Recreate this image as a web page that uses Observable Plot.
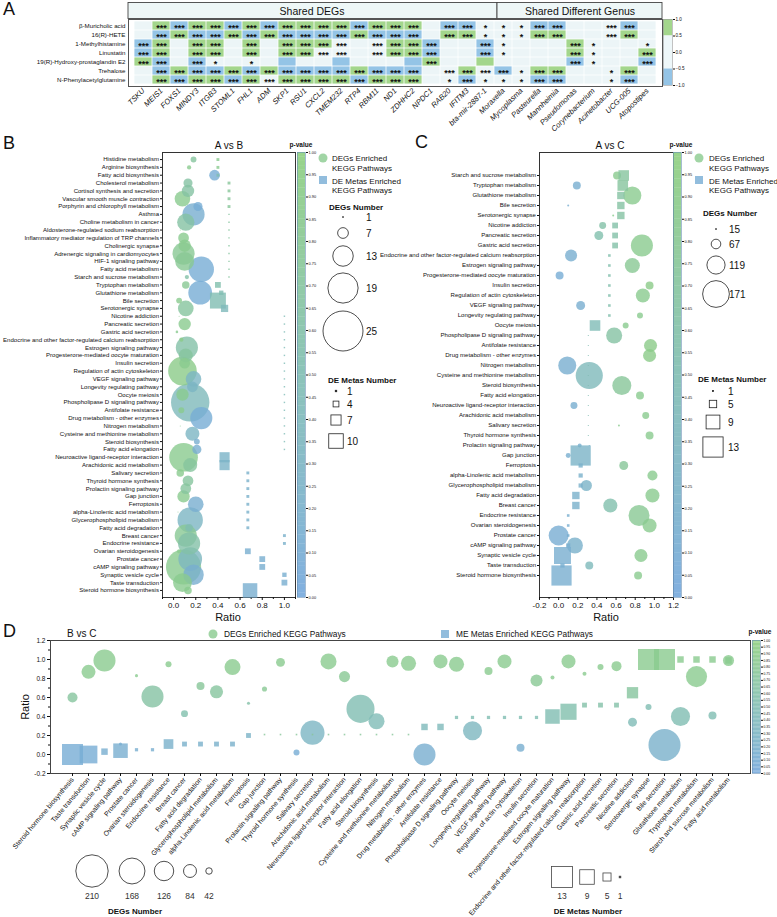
<!DOCTYPE html>
<html><head><meta charset="utf-8">
<script src="https://cdn.jsdelivr.net/npm/d3@7"></script>
<script src="https://cdn.jsdelivr.net/npm/@observablehq/plot@0.6"></script>
<style>
body{margin:0;background:#fff;}
#root{position:relative;width:777px;height:917px;overflow:hidden;font-family:'Liberation Sans',Arial,Helvetica,sans-serif;background:#fff;}
</style></head>
<body><div id="root"></div>
<script>
// ---------------- DATA ----------------
// Panel A
const aRows = ["β-Muricholic acid","16(R)-HETE","1-Methylhistamine","Linustatin","19(R)-Hydroxy-prostaglandin E2","Trehalose","N-Phenylacetylglutamine"];
const aGenes = ["TSKU","MEIS1","FOXS1","MINDY3","ITGB3","STOML1","FHL1","ADM","SKP1","RSU1","CXCL2","TMEM232","RTP4","RBM11","ND1","ZDHHC2","NPDC1","RAB20","IFITM3","bta-mir-2887-1"];
const aGenus = ["Moraxella","Mycoplasma","Pasteurella","Mannheimia","Pseudomonas","Corynebacterium","Acinetobacter","UCG-005","Atopostipes"];
// g = positive (green), b = negative (blue), . = none
const aFill = [
".gbggbgbggggbggg.bb...bb...b.",
".bgbbgbgbbbbgbbb.gg...gg...g.",
"bg.gg.g.ggg...ggb..b....g....",
"bg.gg.g.gg....ggb..b....g...g",
"gb.b....b..b...bg..g....b...b",
".bgbbgbgbbbbgbbb..g.b.gg...g.",
".gbggbg.ggggbggg..b...bb...b."
];
// number of stars
const aStars = [
"03333333333333330331113300330",
"03333333333333330331113300330",
"33033030333303333003100031001",
"33033030333303333003100031003",
"33031010000000003000000031003",
"03333333333333330333313300130",
"03333333333333330131113300130"
];
const aLegendTicks = [1,0.5,0,-0.5,-1];

// Panel B (A vs B)
const bPath = ["Histidine metabolism","Arginine biosynthesis","Fatty acid biosynthesis","Cholesterol metabolism","Cortisol synthesis and secretion","Vascular smooth muscle contraction","Porphyrin and chlorophyll metabolism","Asthma","Choline metabolism in cancer","Aldosterone-regulated sodium reabsorption","Inflammatory mediator regulation of TRP channels","Cholinergic synapse","Adrenergic signaling in cardiomyocytes","HIF-1 signaling pathway","Fatty acid metabolism","Starch and sucrose metabolism","Tryptophan metabolism","Glutathione metabolism","Bile secretion","Serotonergic synapse","Nicotine addiction","Pancreatic secretion","Gastric acid secretion","Endocrine and other factor-regulated calcium reabsorption","Estrogen signaling pathway","Progesterone-mediated oocyte maturation","Insulin secretion","Regulation of actin cytoskeleton","VEGF signaling pathway","Longevity regulating pathway","Oocyte meiosis","Phospholipase D signaling pathway","Antifolate resistance","Drug metabolism - other enzymes","Nitrogen metabolism","Cysteine and methionine metabolism","Steroid biosynthesis","Fatty acid elongation","Neuroactive ligand-receptor interaction","Arachidonic acid metabolism","Salivary secretion","Thyroid hormone synthesis","Prolactin signaling pathway","Gap junction","Ferroptosis","alpha-Linolenic acid metabolism","Glycerophospholipid metabolism","Fatty acid degradation","Breast cancer","Endocrine resistance","Ovarian steroidogenesis","Prostate cancer","cAMP signaling pathway","Synaptic vesicle cycle","Taste transduction","Steroid hormone biosynthesis"];
const bDegRatio = [0.18,0.14,0.37,0.13,0.13,0.08,0.22,0.18,0.11,0.06,0.09,0.10,0.09,0.10,0.25,0.12,0.11,0.24,0.05,0.11,0.05,0.10,0.03,0.07,0.12,0.11,0.10,0.08,0.18,0.17,0.08,0.15,0.07,0.25,0.06,0.17,0.21,0.21,0.09,0.15,0.06,0.13,0.11,0.09,0.20,0.04,0.15,0.14,0.11,0.14,0.05,0.15,0.09,0.18,0.08,0.13];
const bDegNum = [4,3,7,6,8,10,6,14,11,1,7,8,14,12,16,3,5,15,4,10,1,8,2,3,14,9,7,18,10,7,8,24,4,14,1,9,4,6,18,9,5,7,7,8,10,1,16,5,14,14,3,15,22,13,12,5];
const bDegP = [0.7,0.85,0.1,0.65,0.65,0.85,0.1,0.15,0.65,0.9,0.85,0.85,0.8,0.8,0.1,0.6,0.8,0.1,0.85,0.7,0.85,0.85,0.85,0.9,0.6,0.7,0.85,0.9,0.3,0.3,0.85,0.4,0.85,0.1,0.85,0.3,0.15,0.15,0.85,0.7,0.85,0.7,0.7,0.85,0.15,0.85,0.3,0.5,0.8,0.6,0.85,0.35,0.85,0.15,0.85,0.85];
const bMetRatio = [0.40,0.40,0.40,0.50,0.50,0.50,0.50,0.50,0.50,0.50,0.50,0.50,0.50,0.50,0.50,0.50,0.40,0.43,0.40,0.46,1,1,1,1,1,1,1,1,1,1,1,1,1,1,1,1,1,1,0.46,0.46,0.67,0.67,0.67,0.67,0.67,0.67,0.67,0.67,1,1,0.67,0.80,0.80,1,1,0.69];
const bMetNum = [2,2,2,2,2,2,2,1,1,1,1,1,1,1,1,1,4,3,11,5,1,1,1,1,1,1,1,1,1,1,1,1,1,1,1,1,1,1,7,7,2,2,2,2,2,2,2,2,2,2,4,4,4,3,4,10];
const bMetP = [0.85,0.85,0.5,0.75,0.75,0.75,0.75,0.7,0.7,0.7,0.7,0.7,0.7,0.7,0.7,0.7,0.55,0.5,0.5,0.4,0.45,0.45,0.45,0.45,0.45,0.45,0.45,0.45,0.45,0.45,0.45,0.45,0.45,0.45,0.45,0.45,0.45,0.45,0.25,0.25,0.2,0.2,0.2,0.2,0.2,0.2,0.2,0.2,0.2,0.2,0.15,0.15,0.15,0.15,0.15,0.15];
const bTicks = [0,0.2,0.4,0.6,0.8,1.0];
const bMinor = [-0.1,0.1,0.3,0.5,0.7,0.9,1.1];
const bLegDeg = [1,7,13,19,25];
const bLegMet = [1,4,7,10];

// Panel C (A vs C)
const cPath = ["Starch and sucrose metabolism","Tryptophan metabolism","Glutathione metabolism","Bile secretion","Serotonergic synapse","Nicotine addiction","Pancreatic secretion","Gastric acid secretion","Endocrine and other factor-regulated calcium reabsorption","Estrogen signaling pathway","Progesterone-mediated oocyte maturation","Insulin secretion","Regulation of actin cytoskeleton","VEGF signaling pathway","Longevity regulating pathway","Oocyte meiosis","Phospholipase D signaling pathway","Antifolate resistance","Drug metabolism - other enzymes","Nitrogen metabolism","Cysteine and methionine metabolism","Steroid biosynthesis","Fatty acid elongation","Neuroactive ligand-receptor interaction","Arachidonic acid metabolism","Salivary secretion","Thyroid hormone synthesis","Prolactin signaling pathway","Gap junction","Ferroptosis","alpha-Linolenic acid metabolism","Glycerophospholipid metabolism","Fatty acid degradation","Breast cancer","Endocrine resistance","Ovarian steroidogenesis","Prostate cancer","cAMP signaling pathway","Synaptic vesicle cycle","Taste transduction","Steroid hormone biosynthesis"];
const cDegRatio = [0.61,0.19,0.77,0.10,0.57,0.46,0.42,0.87,0.13,0.77,0.01,0.95,0.88,0.23,0.85,0.70,0.58,0.96,0.95,0.09,0.32,0.66,0.85,0.16,0.91,0.63,0.95,0.22,0.10,0.68,0.98,0.29,0.98,0.54,0.84,0.95,0.00,0.17,0.86,0.32,0.83];
const cDegNum = [57,57,118,21,21,51,63,142,82,100,57,57,94,63,45,45,106,88,88,118,173,124,57,51,51,21,57,33,39,63,70,76,94,94,136,94,130,106,88,57,57];
const cDegP = [0.85,0.15,0.85,0.15,0.85,0.6,0.55,0.85,0.15,0.8,0.1,0.9,0.85,0.15,0.85,0.85,0.65,0.9,0.9,0.15,0.4,0.75,0.85,0.15,0.85,0.85,0.85,0.15,0.15,0.75,0.85,0.25,0.85,0.55,0.8,0.85,0.12,0.2,0.85,0.4,0.85];
const cMetRatio = [0.68,0.67,0.65,0.65,0.65,0.59,0.59,0.59,0.53,0.53,0.53,0.53,0.53,0.53,0.53,0.38,0.31,0.31,0.31,0.31,0.31,0.31,0.31,0.31,0.31,0.31,0.31,0.32,0.23,0.23,0.23,0.23,0.18,0.18,0.10,0.10,0.10,0.10,0.04,0.04,0.03];
const cMetNum = [7,7,5,5,5,4,4,4,2,2,2,2,2,2,2,7,1,1,1,1,1,1,1,1,1,1,1,1,13,3,3,3,5,5,2,2,2,3,11,3,13];
const cMetP = [0.7,0.7,0.65,0.65,0.65,0.6,0.6,0.6,0.55,0.55,0.55,0.55,0.55,0.55,0.55,0.45,0.5,0.5,0.5,0.5,0.5,0.5,0.5,0.5,0.5,0.5,0.5,0.2,0.25,0.2,0.2,0.2,0.2,0.2,0.15,0.15,0.15,0.15,0.15,0.15,0.15];
const cTicks = [-0.2,0,0.2,0.4,0.6,0.8,1.0,1.2];
const cMinor = [-0.1,0.1,0.3,0.5,0.7,0.9,1.1];
const cLegDeg = [15,67,119,171];
const cLegMet = [1,5,9,13];

// Panel D (B vs C)
const dPath = ["Steroid hormone biosynthesis","Taste transduction","Synaptic vesicle cycle","cAMP signaling pathway","Prostate cancer","Ovarian steroidogenesis","Endocrine resistance","Breast cancer","Fatty acid degradation","Glycerophospholipid metabolism","alpha-Linolenic acid metabolism","Ferroptosis","Gap junction","Prolactin signaling pathway","Thyroid hormone synthesis","Salivary secretion","Arachidonic acid metabolism","Neuroactive ligand-receptor interaction","Fatty acid elongation","Steroid biosynthesis","Cysteine and methionine metabolism","Nitrogen metabolism","Drug metabolism - other enzymes","Antifolate resistance","Phospholipase D signaling pathway","Oocyte meiosis","Longevity regulating pathway","VEGF signaling pathway","Regulation of actin cytoskeleton","Insulin secretion","Progesterone-mediated oocyte maturation","Estrogen signaling pathway","Endocrine and other factor-regulated calcium reabsorption","Gastric acid secretion","Pancreatic secretion","Nicotine addiction","Serotonergic synapse","Bile secretion","Glutathione metabolism","Tryptophan metabolism","Starch and sucrose metabolism","Fatty acid metabolism"];
const dDegRatio = [0.60,0.87,0.99,0.11,0.83,0.61,0.95,0.43,0.72,0.66,0.92,0.54,0.69,0.97,0.02,0.23,0.98,0.82,0.48,0.35,0.98,0.96,0.00,0.98,0.95,0.25,0.88,0.98,0.07,0.78,0.81,0.98,0.85,0.92,0.93,0.34,0.50,0.10,0.40,0.82,0.41,0.99];
const dDegNum = [65,91,143,20,20,143,39,45,52,85,104,20,33,58,39,156,104,72,182,104,78,98,143,91,98,124,52,91,52,78,26,91,26,39,65,58,39,208,124,137,52,72];
const dDegP = [0.7,0.85,0.85,0.1,0.85,0.65,0.85,0.55,0.75,0.7,0.85,0.6,0.8,0.85,0.1,0.3,0.85,0.8,0.5,0.45,0.85,0.85,0.15,0.85,0.85,0.35,0.85,0.85,0.15,0.8,0.85,0.85,0.85,0.85,0.85,0.45,0.5,0.2,0.5,0.85,0.5,0.85];
const dMetRatio = [0.00,0.00,0.03,0.04,0.05,0.05,0.11,0.11,0.11,0.11,0.11,0.20,0.21,0.21,0.21,0.21,0.21,0.21,0.21,0.21,0.21,0.21,0.29,0.29,0.39,0.39,0.39,0.39,0.39,0.39,0.40,0.45,0.52,0.52,0.52,0.65,1.0,1.0,1.0,1.0,1.0,0.99];
const dMetNum = [13,11,4,9,2,2,6,3,3,3,3,3,1,1,1,1,1,1,1,1,1,1,4,4,2,2,2,2,2,2,9,10,3,3,3,7,13,13,4,4,4,4];
const dMetP = [0.1,0.1,0.15,0.15,0.15,0.15,0.2,0.2,0.2,0.2,0.2,0.25,0.75,0.75,0.75,0.75,0.75,0.75,0.75,0.75,0.75,0.75,0.4,0.4,0.5,0.5,0.5,0.5,0.5,0.5,0.5,0.55,0.6,0.6,0.6,0.7,0.85,0.85,0.85,0.85,0.85,0.85];
const dYTicks = [-0.2,0,0.2,0.4,0.6,0.8,1.0,1.2];
const dYMinor = [-0.1,0.1,0.3,0.5,0.7,0.9,1.1];
const dLegDeg = [210,168,126,84,42];
const dLegMet = [13,9,5,1];

// p-value colour bar ticks
const pTicks = [0,0.05,0.1,0.15,0.2,0.25,0.3,0.35,0.4,0.45,0.5,0.55,0.6,0.65,0.7,0.75,0.8,0.85,0.9,0.95,1];

// ---------------- STYLE ----------------
const FONT = "'Liberation Sans', Arial, Helvetica, sans-serif";
const heatG = "#a3d68c", heatB = "#94c4e6", heatBg = "#ecf5f7";
const pRange = ["#75a8dc", "#80bdb2", "#8ecf7e"];
const pColor = {type: "linear", domain: [0, 0.5, 1], range: pRange};
const pFn = d3.scaleLinear([0, 0.5, 1], pRange);
const OP = 0.8;
const baseStyle = {fontFamily: FONT, background: "transparent", overflow: "visible", color: "#111"};
const sqR = s => s / Math.sqrt(Math.PI); // square side -> symbol radius

const bR = d3.scaleLinear([1, 25], [0.5, 20]);
const bSide = d3.scaleLinear([0, 10], [0, 14.5]);
const cR = d3.scaleLinear([15, 171], [0.5, 13.4]);
const cSide = d3.scaleLinear([1, 13], [1, 20.2]);
const dR = d3.scaleLinear([0, 210], [0, 16.2]);
const dSide = d3.scaleLinear([0, 13], [0, 21]);

const root = document.getElementById("root");
function place(el, left, top) {
  el.style.position = "absolute";
  el.style.left = left + "px";
  el.style.top = top + "px";
  el.style.maxWidth = "none";
  root.appendChild(el);
}

// ---------------- PANEL A ----------------
const aCols = aGenes.concat(aGenus);
const aCells = aRows.flatMap((row, i) => aCols.map((col, j) => ({row, col, f: aFill[i][j], s: +aStars[i][j]})));
place(Plot.plot({
  width: 665, height: 135, marginLeft: 128, marginRight: 3, marginTop: 19, marginBottom: 49,
  x: {domain: aCols, padding: 0}, y: {domain: aRows, padding: 0},
  color: {type: "ordinal", domain: ["g", "b", "."], range: [heatG, heatB, heatBg]},
  style: baseStyle,
  marks: [
    Plot.cell(aCells, {x: "col", y: "row", fill: "f", inset: 0.4}),
    Plot.text(aCells.filter(d => d.s > 0), {x: "col", y: "row", text: d => "*".repeat(d.s), fontSize: 9, fontWeight: "bold", dy: 2.6, fill: "#111"}),
    Plot.frame({stroke: "#555", strokeWidth: 1}),
    Plot.axisX({tickRotate: -45, tickSize: 0, tickPadding: 3, fontSize: 7.6, fontStyle: "italic", label: null}),
    Plot.axisY({tickSize: 0, tickPadding: 3, fontSize: 6.2, label: null})
  ]
}), 0, 0);

const aLegend = [{lo: 0.5, hi: 1, c: heatG}, {lo: -0.5, hi: 0.5, c: "#eef7f9"}, {lo: -1, hi: -0.5, c: heatB}];
place(Plot.plot({
  width: 30, height: 100, marginLeft: 2, marginRight: 19, marginTop: 19, marginBottom: 15,
  x: {domain: [0, 1], axis: null}, y: {domain: [-1, 1]}, color: {type: "identity"},
  style: baseStyle,
  marks: [
    Plot.rect(aLegend, {x1: 0, x2: 1, y1: "lo", y2: "hi", fill: "c"}),
    Plot.frame({stroke: "#999", strokeWidth: 0.6}),
    Plot.axisY({anchor: "right", ticks: aLegendTicks, tickSize: 2, tickPadding: 1, fontSize: 4.6, label: null})
  ]
}), 661, 0);

// ---------------- helpers ----------------
const cbSteps = d3.range(0, 1, 0.01);
function colorbar(left, top, width, height, mt, mb, fs) {
  place(Plot.plot({
    width, height, marginLeft: 2, marginRight: width - 10, marginTop: mt, marginBottom: mb,
    x: {domain: [0, 1], axis: null}, y: {domain: [0, 1]}, color: pColor,
    style: baseStyle,
    marks: [
      Plot.rect(cbSteps, {x1: 0, x2: 1, y1: d => d, y2: d => Math.min(1, d + 0.0105), fill: d => d + 0.005, fillOpacity: 0.9}),
      Plot.frame({stroke: "#6a8fb5", strokeWidth: 0.6}),
      Plot.axisY({anchor: "right", ticks: pTicks, tickFormat: d => d.toFixed(2), tickSize: 2, tickPadding: 1, fontSize: fs, label: null})
    ]
  }), left, top);
}

function dotPanel(o) {
  const deg = o.path.map((p, i) => ({p, ratio: o.degRatio[i], n: o.degNum[i], pv: o.degP[i]}));
  const met = o.path.map((p, i) => ({p, ratio: o.metRatio[i], n: o.metNum[i], pv: o.metP[i]}));
  return Plot.plot({
    width: o.width, height: o.height, marginLeft: o.ml, marginRight: o.mr, marginTop: o.mt, marginBottom: o.mb,
    x: {domain: o.xDomain}, y: {type: "point", domain: o.path, padding: o.pad},
    r: {type: "identity"}, color: pColor, style: baseStyle,
    marks: [
      Plot.frame({stroke: "#333", strokeWidth: 1}),
      Plot.axisY({tickSize: 2, tickPadding: 1.5, fontSize: 6.05, label: null}),
      Plot.axisX({ticks: o.ticks, tickFormat: d => d.toFixed(1), tickSize: 3, tickPadding: 2, fontSize: 8, label: null}),
      Plot.axisX({ticks: o.minor, tickFormat: () => "", tickSize: 2, label: null}),
      Plot.dot(deg, {x: "ratio", y: "p", r: d => o.rS(d.n), fill: "pv", fillOpacity: OP}),
      Plot.dot(met, {x: "ratio", y: "p", r: d => sqR(o.sS(d.n)), symbol: "square", fill: "pv", fillOpacity: OP})
    ]
  });
}

// ---------------- PANEL B ----------------
place(dotPanel({path: bPath, degRatio: bDegRatio, degNum: bDegNum, degP: bDegP, metRatio: bMetRatio, metNum: bMetNum, metP: bMetP,
  width: 300, height: 485, ml: 162, mr: 5, mt: 12, mb: 28, xDomain: [-0.1, 1.1], pad: 0.9,
  ticks: bTicks, minor: bMinor, rS: bR, sS: bSide}), 0, 140);
colorbar(295, 140, 40, 485, 12, 28, 3.9);

// ---------------- PANEL C ----------------
place(dotPanel({path: cPath, degRatio: cDegRatio, degNum: cDegNum, degP: cDegP, metRatio: cMetRatio, metNum: cMetNum, metP: cMetP,
  width: 345, height: 485, ml: 209, mr: 2, mt: 12, mb: 28, xDomain: [-0.2, 1.2], pad: 1.0,
  ticks: cTicks, minor: cMinor, rS: cR, sS: cSide}), 330, 140);
colorbar(671, 140, 40, 485, 12, 28, 3.9);

// ---------------- PANEL D ----------------
{
  const deg = dPath.map((p, i) => ({p, ratio: dDegRatio[i], n: dDegNum[i], pv: dDegP[i]}));
  const met = dPath.map((p, i) => ({p, ratio: dMetRatio[i], n: dMetNum[i], pv: dMetP[i]}));
  place(Plot.plot({
    width: 752, height: 287, marginLeft: 50, marginRight: 2, marginTop: 10, marginBottom: 144,
    x: {type: "point", domain: dPath, padding: 1}, y: {domain: [-0.2, 1.2]},
    r: {type: "identity"}, color: pColor, style: baseStyle,
    marks: [
      Plot.frame({stroke: "#444", strokeWidth: 1}),
      Plot.axisX({tickRotate: -50, tickSize: 3, tickPadding: 2, fontSize: 6.9, label: null}),
      Plot.axisY({ticks: dYTicks, tickFormat: d => d.toFixed(1), tickSize: 3, tickPadding: 2, fontSize: 6.5, label: null}),
      Plot.axisY({ticks: dYMinor, tickFormat: () => "", tickSize: 2, label: null}),
      Plot.dot(deg, {x: "p", y: "ratio", r: d => dR(d.n), fill: "pv", fillOpacity: OP}),
      Plot.dot(met, {x: "p", y: "ratio", r: d => sqR(dSide(d.n)), symbol: "square", fill: "pv", fillOpacity: OP})
    ]
  }), 0, 630);
  colorbar(750, 630, 27, 143, 10, 0, 3.4);
}

// ---------------- OVERLAY: titles & legends ----------------
const ov = d3.select(root).append("svg")
  .attr("width", 777).attr("height", 917)
  .style("position", "absolute").style("left", "0px").style("top", "0px")
  .style("font-family", FONT).style("pointer-events", "none");

function txt(x, y, s, size, opts = {}) {
  const t = ov.append("text").attr("x", x).attr("y", y).text(s)
    .attr("font-size", size).attr("fill", opts.fill || "#111")
    .attr("text-anchor", opts.anchor || "start")
    .attr("font-weight", opts.weight || "normal");
  if (opts.rotate) t.attr("transform", `rotate(${opts.rotate},${x},${y})`);
  return t;
}
function circ(x, y, r, opts = {}) {
  ov.append("circle").attr("cx", x).attr("cy", y).attr("r", r)
    .attr("fill", opts.fill || "none").attr("fill-opacity", opts.fo == null ? 1 : opts.fo)
    .attr("stroke", opts.stroke || "none").attr("stroke-width", opts.sw || 0.8);
}
function sq(x, y, side, opts = {}) {
  ov.append("rect").attr("x", x - side / 2).attr("y", y - side / 2).attr("width", side).attr("height", side)
    .attr("fill", opts.fill || "none").attr("fill-opacity", opts.fo == null ? 1 : opts.fo)
    .attr("stroke", opts.stroke || "none").attr("stroke-width", opts.sw || 0.8);
}

// panel letters
txt(3, 15, "A", 18); txt(3, 149, "B", 18); txt(415, 148, "C", 18); txt(3, 637, "D", 18);

// heatmap headers
ov.append("rect").attr("x", 128).attr("y", 2.5).attr("width", 369).attr("height", 16).attr("fill", "#eef7f7").attr("stroke", "#444").attr("stroke-width", 0.9);
ov.append("rect").attr("x", 497).attr("y", 2.5).attr("width", 165).attr("height", 16).attr("fill", "#eef7f7").attr("stroke", "#444").attr("stroke-width", 0.9);
txt(312, 14.5, "Shared DEGs", 10.5, {anchor: "middle"});
txt(580, 14.5, "Shared Different Genus", 10.5, {anchor: "middle"});

// titles
txt(229, 149, "A vs B", 10, {anchor: "middle"});
txt(610, 149, "A vs C", 10, {anchor: "middle"});
txt(67, 637, "B vs C", 10);
txt(301, 147, "p-value", 6.5, {anchor: "middle", weight: "bold"});
txt(681, 147, "p-value", 6.5, {anchor: "middle", weight: "bold"});
txt(760, 634, "p-value", 6.5, {anchor: "middle", weight: "bold"});
txt(228, 621, "Ratio", 11, {anchor: "middle"});
txt(606, 621, "Ratio", 11, {anchor: "middle"});
txt(29, 707, "Ratio", 11, {anchor: "middle", rotate: -90});

// B legend
circ(323, 158, 4.5, {fill: pFn(0.85), fo: OP});
txt(332, 161, "DEGs Enriched", 8); txt(332, 171, "KEGG Pathways", 8);
sq(323, 180, 8, {fill: pFn(0.1), fo: OP});
txt(332, 184, "DE Metas Enriched", 8); txt(332, 193, "KEGG Pathways", 8);
txt(329, 210, "DEGs Number", 8, {weight: "bold"});
[217, 233, 256, 288, 331].forEach((y, i) => {
  circ(343, y, bR(bLegDeg[i]), {stroke: "#222", fill: i === 0 ? "#222" : "none"});
  txt(366, y + 3.5, bLegDeg[i], 10);
});
txt(328, 383, "DE Metas Number", 8, {weight: "bold"});
[391, 404, 420, 441].forEach((y, i) => {
  sq(336, y, bSide(bLegMet[i]), {stroke: "#222", fill: i === 0 ? "#222" : "none"});
  txt(347, y + 3.5, bLegMet[i], 10);
});

// C legend
circ(699, 158, 4.5, {fill: pFn(0.85), fo: OP});
txt(709, 161, "DEGs Enriched", 8); txt(709, 171, "KEGG Pathways", 8);
sq(699, 180, 8, {fill: pFn(0.1), fo: OP});
txt(709, 184, "DE Metas Enriched", 8); txt(709, 193, "KEGG Pathways", 8);
txt(703, 216, "DEGs Number", 8, {weight: "bold"});
[229, 244, 265, 294].forEach((y, i) => {
  circ(716, y, cR(cLegDeg[i]), {stroke: "#222", fill: i === 0 ? "#222" : "none"});
  txt(729, y + 3.5, cLegDeg[i], 10);
});
txt(698, 382, "DE Metas Number", 8, {weight: "bold"});
[391, 404, 422, 447].forEach((y, i) => {
  sq(713, y, cSide(cLegMet[i]), {stroke: "#222", fill: i === 0 ? "#222" : "none"});
  txt(728, y + 3.5, cLegMet[i], 10);
});

// D legends
circ(213, 634, 4.5, {fill: pFn(0.85), fo: OP});
txt(224, 637, "DEGs Enriched KEGG Pathways", 8.3);
sq(445, 634, 8, {fill: pFn(0.1), fo: OP});
txt(456, 637, "ME Metas Enriched KEGG Pathways", 8.3);
[92, 132, 164, 190, 209].forEach((x, i) => {
  circ(x, 871, dR(dLegDeg[i]), {stroke: "#222"});
  txt(x, 899, dLegDeg[i], 8.5, {anchor: "middle", fill: "#333"});
});
txt(135, 914, "DEGs Number", 8, {anchor: "middle", weight: "bold"});
[562, 587, 607, 620].forEach((x, i) => {
  sq(x, 877, dSide(dLegMet[i]), {stroke: "#444", fill: i === 3 ? "#444" : "none"});
  txt(x, 899, dLegMet[i], 8.5, {anchor: "middle", fill: "#333"});
});
txt(588, 914, "DE Metas Number", 8, {anchor: "middle", weight: "bold"});
</script>
</body></html>
